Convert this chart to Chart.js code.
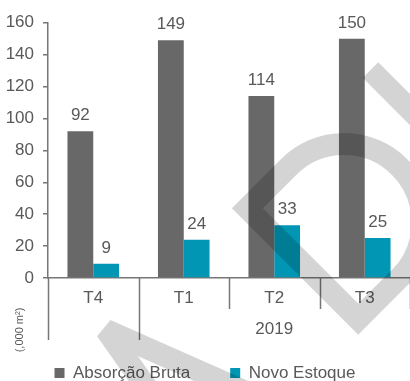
<!DOCTYPE html>
<html>
<head>
<meta charset="utf-8">
<script src="https://cdn.jsdelivr.net/npm/chart.js@4.4.1/dist/chart.umd.min.js"></script>
<style>
  html, body { margin: 0; padding: 0; background: #fff; }
</style>
</head>
<body>
<canvas id="chart" width="410" height="381"></canvas>
<script>
// Absorção Bruta vs Novo Estoque, quarterly
const categories = ['T4', 'T1', 'T2', 'T3'];
const yearLabel = '2019';
const absorcaoBruta = [92, 149, 114, 150];
const novoEstoque = [9, 24, 33, 25];
const unitLabel = '(,000 m²)';

const FONT = "'Liberation Sans', Arial, sans-serif";
const TEXT = '#595959';
const AXIS = '#767676';
const GRAY = '#676867';
const TEAL = '#0096B4';

// value labels above bars
const barLabels = {
    id: 'barLabels',
    afterDatasetsDraw(chart) {
        const ctx = chart.ctx;
        ctx.save();
        ctx.font = `17px ${FONT}`;
        ctx.fillStyle = TEXT;
        ctx.textAlign = 'center';
        ctx.textBaseline = 'alphabetic';
        chart.data.datasets.forEach((ds, i) => {
            chart.getDatasetMeta(i).data.forEach((bar, j) => {
                ctx.fillText(ds.data[j], bar.x, bar.y - 11);
            });
        });
        ctx.restore();
    }
};

// category separators, year label and unit label
const axisExtras = {
    id: 'axisExtras',
    afterDraw(chart) {
        const ctx = chart.ctx;
        const x = chart.scales.x;
        const area = chart.chartArea;
        const half = (x.getPixelForValue(1) - x.getPixelForValue(0)) / 2;
        ctx.save();
        ctx.strokeStyle = AXIS;
        ctx.lineWidth = 1.5;
        for (let i = 0; i <= categories.length; i++) {
            const px = Math.round(x.getPixelForValue(i) - half) + 0.5;
            const len = i < 2 ? 62 : 31;
            ctx.beginPath();
            ctx.moveTo(px, area.bottom);
            ctx.lineTo(px, area.bottom + len);
            ctx.stroke();
        }
        ctx.fillStyle = TEXT;
        ctx.font = `17px ${FONT}`;
        ctx.textAlign = 'center';
        ctx.textBaseline = 'middle';
        const mid = (x.getPixelForValue(1) + x.getPixelForValue(categories.length - 1)) / 2;
        ctx.fillText(yearLabel, mid, area.bottom + 51);

        ctx.translate(20, area.bottom + 52);
        ctx.rotate(-Math.PI / 2);
        ctx.font = `11px ${FONT}`;
        ctx.fillText(unitLabel, 0, 0);
        ctx.restore();
    }
};

// light watermark drawn over the chart
const watermark = {
    id: 'watermark',
    afterDraw(chart) {
        const ctx = chart.ctx;
        ctx.save();
        ctx.strokeStyle = 'rgba(0,0,0,0.17)';
        ctx.lineWidth = 22;

        ctx.lineJoin = 'bevel';
        ctx.beginPath();
        ctx.moveTo(152, 395);
        ctx.lineTo(106, 330);
        ctx.lineTo(307, 419);
        ctx.stroke();

        ctx.lineJoin = 'miter';
        ctx.lineCap = 'butt';
        ctx.beginPath();
        ctx.moveTo(370.5, 70);
        ctx.lineTo(470, 170);
        ctx.stroke();

        ctx.translate(302.8, 263.7);
        ctx.rotate(Math.PI / 4);
        const r = 78.4, d = 58.4;
        ctx.beginPath();
        ctx.moveTo(-r, 0);
        ctx.lineTo(r, 0);
        ctx.lineTo(r, -d);
        ctx.arc(0, -d, r, 0, Math.PI, true);
        ctx.closePath();
        ctx.stroke();
        ctx.restore();
    }
};

new Chart(document.getElementById('chart'), {
    type: 'bar',
    data: {
        labels: categories,
        datasets: [
            { label: 'Absorção Bruta', data: absorcaoBruta, backgroundColor: GRAY },
            { label: 'Novo Estoque', data: novoEstoque, backgroundColor: TEAL }
        ]
    },
    options: {
        responsive: false,
        devicePixelRatio: 1,
        animation: false,
        datasets: { bar: { categoryPercentage: 0.57, barPercentage: 1 } },
        layout: { padding: { top: 22.7, left: 0, right: 0, bottom: -10.5 } },
        plugins: {
            legend: {
                position: 'bottom',
                labels: {
                    boxWidth: 10,
                    boxHeight: 10,
                    padding: 40,
                    color: TEXT,
                    font: { family: FONT, size: 17 }
                }
            },
            tooltip: { enabled: false }
        },
        scales: {
            x: {
                grid: { drawOnChartArea: false, drawTicks: false, color: 'rgba(0,0,0,0)' },
                border: { display: true, color: AXIS, width: 1.5 },
                ticks: { color: TEXT, font: { family: FONT, size: 17 }, padding: 10 },
                afterFit: s => { s.height = 46.5; }
            },
            y: {
                min: 0,
                max: 160,
                ticks: { stepSize: 20, color: TEXT, font: { family: FONT, size: 17 }, padding: 9 },
                grid: { drawOnChartArea: false, drawTicks: true, tickLength: 5, color: AXIS, lineWidth: 1.5 },
                border: { color: AXIS, width: 1.5 },
                afterFit: s => { s.width = 48; }
            }
        }
    },
    plugins: [barLabels, axisExtras, watermark]
});
</script>
</body>
</html>
